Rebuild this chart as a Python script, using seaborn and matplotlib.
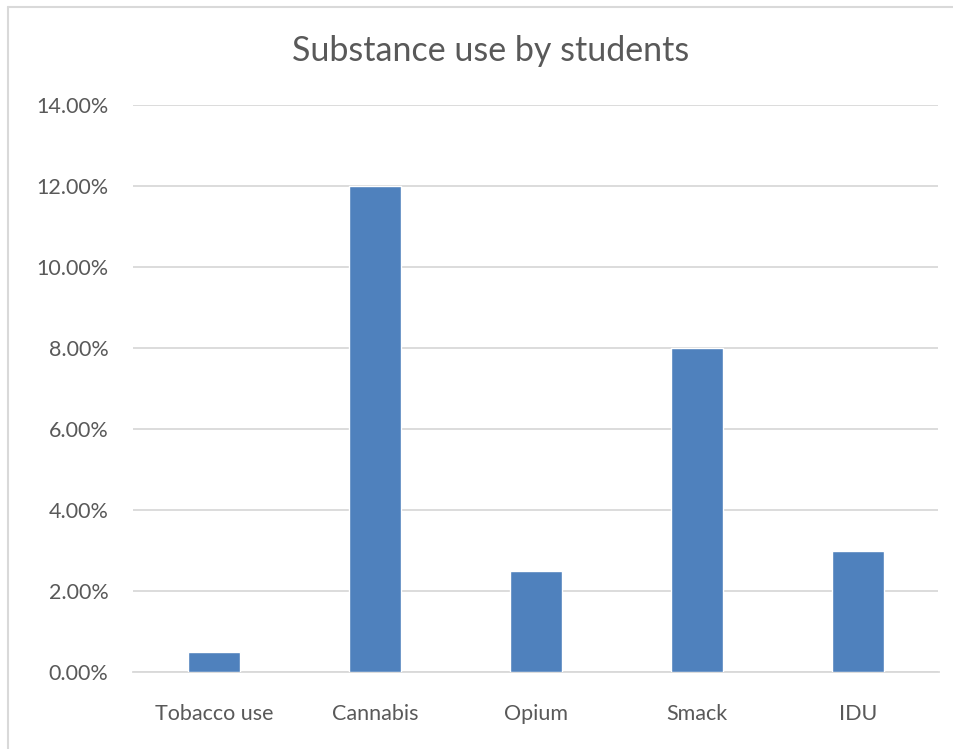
import matplotlib
matplotlib.use("Agg")
import matplotlib.pyplot as plt
from matplotlib.lines import Line2D
from matplotlib.ticker import PercentFormatter, MultipleLocator
import seaborn as sns
import pandas as pd

categories = ["Tobacco use", "Cannabis", "Opium", "Smack", "IDU"]
values = [0.005, 0.12, 0.025, 0.08, 0.03]
title = "Substance use by students"

sns.set_theme(style="white")
plt.rcParams["font.family"] = ["Lato", "DejaVu Sans"]

text_color = "#595959"
grid_color = "#d9d9d9"
bar_color = "#4f81bd"

W, H = 954, 749
fig = plt.figure(figsize=(W / 100, H / 100), dpi=100)
ax = fig.add_axes([133.5 / W, 1 - 672 / H, (938.5 - 133.5) / W, (672 - 105) / H])

df = pd.DataFrame({"category": categories, "value": values})
sns.barplot(data=df, x="category", y="value", color=bar_color, width=0.32,
            saturation=1, ax=ax, zorder=3)

ax.set_ylim(0, 0.14)
ax.set_xlim(-0.5, len(categories) - 0.5)
ax.yaxis.set_major_locator(MultipleLocator(0.02))
ax.yaxis.set_major_formatter(PercentFormatter(xmax=1, decimals=2))
ax.grid(axis="y", color=grid_color, linewidth=1.3, zorder=0)
ax.set_axisbelow(True)
for s in ["top", "right", "left"]:
    ax.spines[s].set_visible(False)
ax.spines["bottom"].set_color(grid_color)
ax.spines["bottom"].set_linewidth(1.3)
ax.set_xlabel("")
ax.set_ylabel("")
ax.tick_params(axis="y", length=0, pad=18, labelsize=15.5, labelcolor=text_color)
ax.tick_params(axis="x", length=0, pad=23, labelsize=15.5, labelcolor=text_color)

fig.text(491 / W, 1 - 51 / H, title, ha="center", va="center", fontsize=24.5, color=text_color)

# chart-area frame: only the top and left edges fall inside the canvas
fig.add_artist(Line2D([8 / W, 1], [1 - 7 / H, 1 - 7 / H], transform=fig.transFigure,
                      color=grid_color, linewidth=1.5))
fig.add_artist(Line2D([8 / W, 8 / W], [0, 1 - 7 / H], transform=fig.transFigure,
                      color=grid_color, linewidth=1.5))

fig.savefig("out.png", dpi=100, facecolor="white")
